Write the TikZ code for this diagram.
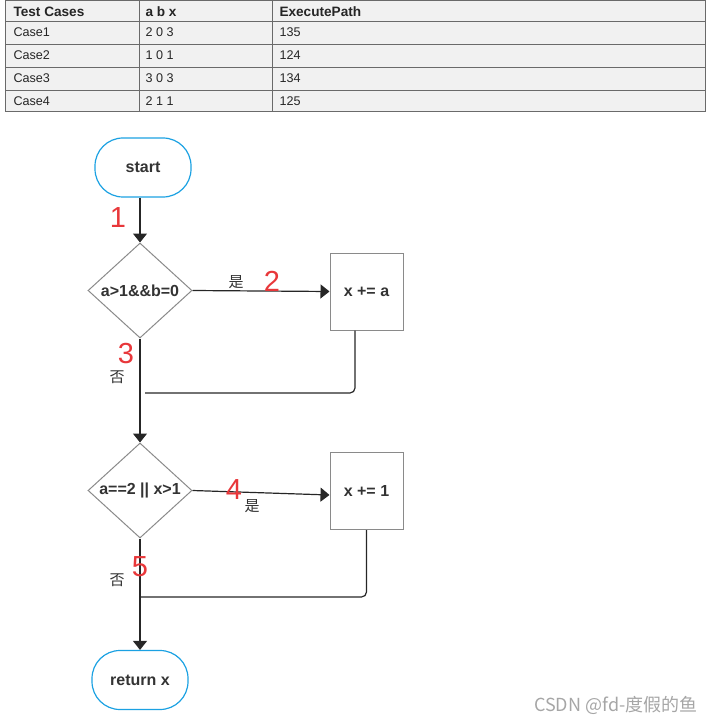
\documentclass[tikz,border=0pt]{standalone}
\usepackage{fontspec}
\setmainfont{Liberation Sans}
\newfontfamily\cjk{Noto Sans CJK SC}
\usetikzlibrary{positioning,shapes.geometric,arrows.meta}

\definecolor{flowblue}{HTML}{1BA1E2}
\definecolor{pathred}{HTML}{E8373A}
\definecolor{edgegray}{HTML}{8A8A8A}
\definecolor{tablegray}{HTML}{F1F1F1}
\definecolor{tableline}{HTML}{6A6A6A}

\tikzset{
  cell/.style={anchor=west,font=\fontsize{12.6}{14}\selectfont,text=black!85},
  headcell/.style={cell,font=\fontsize{13.6}{15}\selectfont\bfseries},
  flowtext/.style={font=\fontsize{16}{19}\selectfont\bfseries,text=black!80},
  terminal/.style={draw=flowblue,line width=1.2pt,rounded corners=28pt,
    minimum width=96pt,minimum height=59pt,flowtext},
  process/.style={draw=edgegray,line width=1pt,minimum width=73pt,
    minimum height=77pt,flowtext},
  decision/.style={draw=edgegray,line width=1pt,diamond,inner sep=0pt,
    minimum width=104pt,minimum height=95pt},
  pathno/.style={text=pathred,font=\fontsize{29}{31}\selectfont},
  branch/.style={font=\cjk\fontsize{15}{18}\selectfont,text=black!80},
  flow/.style={line width=1.2pt,draw=black!85,
    -{Triangle[width=14pt,length=9pt]}},
  back/.style={line width=1.2pt,draw=black!85,rounded corners=5pt}
}

\begin{document}
\begin{tikzpicture}
  [
    x=1pt,y=-1pt
  ]
  \useasboundingbox (0,0) rectangle (714,722);

  % test case table
  \fill[tablegray] (5,1) rectangle (705,112);
  \foreach \y in {21,44,67,90}
    \draw[tableline,line width=0.8pt] (5,\y) -- (705,\y);
  \draw[tableline,line width=0.8pt] (139,1) -- (139,112);
  \draw[tableline,line width=0.8pt] (272,1) -- (272,112);
  \draw[tableline,line width=1pt] (5,1) rectangle (705,112);

  \node[headcell] (hcase) at (10,11.5) {Test Cases};
  \node[headcell] (hval) at (142,11.5) {a b x};
  \node[headcell] (hpath) at (276,11.5) {ExecutePath};
  \foreach \r/\c/\v/\p/\y in {1/Case1/2 0 3/135/32.5,
                              2/Case2/1 0 1/124/55.5,
                              3/Case3/3 0 3/134/78.5,
                              4/Case4/2 1 1/125/101}
  {
    \node[cell] (case\r) at (10,\y) {\c};
    \node[cell] (val\r) at (142,\y) {\v};
    \node[cell] (path\r) at (276,\y) {\p};
  }

  % flowchart
  \node[terminal] (start) at (143,167.5) {start};
  \node[decision,label={[flowtext]center:a>1\&\&b=0}] (cond1) at (140,290.5) {};
  \node[process] (incA) at (366.5,291.5) {x += a};
  \node[decision,label={[flowtext]center:a==2 || x>1}] (cond2) at (140,490.5) {};
  \node[process] (incOne) at (366.5,491) {x += 1};
  \node[terminal] (ret) at (140,680) {return x};

  \draw[flow] (start.south -| cond1.north) -- (cond1.north);
  \draw[flow] (cond1.east) -- (incA.west);
  \draw[flow] (cond1.south) -- (cond2.north);
  \draw[flow] (cond2.east) -- ([yshift=-4pt]incOne.west);
  \draw[flow] (cond2.south) -- (ret.north);

  \coordinate (join1) at (145,393);
  \coordinate (join2) at (140,597);
  \draw[back] ([xshift=-11.5pt]incA.south) |- (join1);
  \draw[back] (incOne.south) |- (join2);

  % branch labels
  \node[branch] (yes1) at (236,282) {是};
  \node[branch] (no1) at (117,377) {否};
  \node[branch] (yes2) at (252,506) {是};
  \node[branch] (no2) at (117,580) {否};

  % path numbers
  \node[pathno] (p1) at (118,218) {1};
  \node[pathno] (p2) at (272,281) {2};
  \node[pathno] (p3) at (126,354) {3};
  \node[pathno] (p4) at (234,490) {4};
  \node[pathno] (p5) at (140,567) {5};

  \node[anchor=base east,font=\cjk\fontsize{18}{21}\selectfont,text=black!35]
    (mark) at (701,711) {CSDN @fd-度假的鱼};
\end{tikzpicture}
\end{document}
